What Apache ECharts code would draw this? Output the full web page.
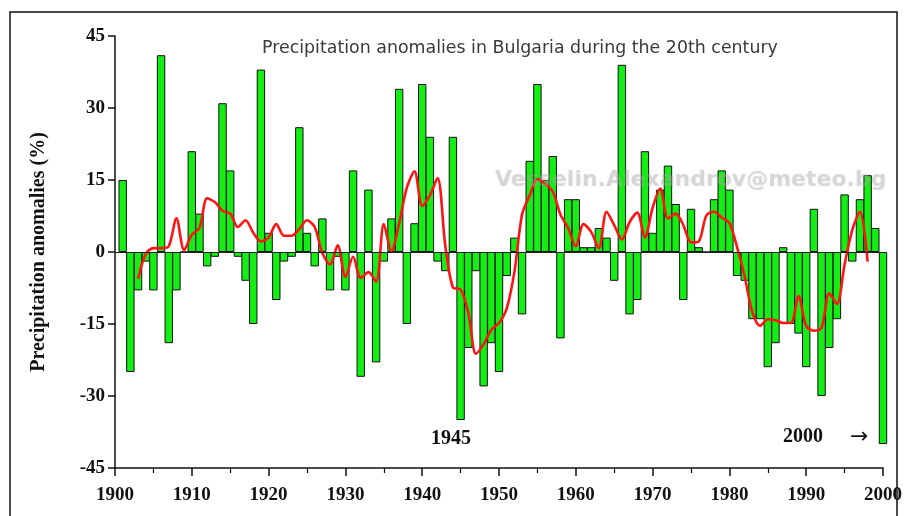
<!DOCTYPE html>
<html>
<head>
<meta charset="utf-8">
<script src="https://cdn.jsdelivr.net/npm/echarts@6/dist/echarts.min.js"></script>
<style>
html,body{margin:0;padding:0;background:#fff;}
#chart{width:905px;height:516px;}
</style>
</head>
<body>
<div id="chart"></div>
<script>
// Annual precipitation anomalies (%), 1901-2000
var firstYear = 1901;
var anomalies = [
  15, -25, -8, -2, -8, 41, -19, -8, 0, 21,
  8, -3, -1, 31, 17, -1, -6, -15, 38, 4,
  -10, -2, -1, 26, 4, -3, 7, -8, -1, -8,
  17, -26, 13, -23, -2, 7, 34, -15, 6, 35,
  24, -2, -4, 24, -35, -20, -4, -28, -19, -25,
  -5, 3, -13, 19, 35, 15, 20, -18, 11, 11,
  1, 1, 5, 3, -6, 39, -13, -10, 21, 4,
  13, 18, 10, -10, 9, 1, 0, 11, 17, 13,
  -5, -6, -14, -14, -24, -19, 1, -15, -17, -24,
  9, -30, -20, -14, 12, -2, 11, 16, 5, -40
];
// Smoothed curve (red line), 1903-1998
var smoothFirstYear = 1903;
var smoothed = [
  -5.6, -0.4, 0.8, 0.8, 1.2, 7.0, 0.4, 3.6, 5.0, 11.2,
  10.4, 8.6, 8.0, 5.2, 6.6, 4.0, 2.2, 3.0, 5.8, 3.4,
  3.4, 4.8, 6.6, 5.2, -0.2, -2.6, 1.4, -5.2, -1.0, -5.4,
  -4.2, -6.2, 5.8, 0.2, 6.0, 13.4, 16.8, 9.6, 11.8, 15.4,
  1.4, -7.4, -7.8, -12.6, -21.2, -19.2, -16.2, -14.8, -11.8, -4.2,
  7.8, 11.8, 15.2, 14.2, 12.6, 7.8, 5.0, 1.2, 5.8, 4.2,
  0.8, 8.4, 5.6, 2.6, 6.2, 8.2, 3.0, 9.2, 13.2, 7.0,
  8.0, 5.6, 2.0, 2.2, 7.6, 8.4, 7.2, 6.0, 1.0, -5.2,
  -12.6, -15.4, -14.0, -14.2, -14.8, -14.8, -9.2, -15.4, -16.4, -15.8,
  -8.6, -10.8, -2.6, 4.6, 8.4, -2.0
];
var yTicks = {min: -45, max: 45, step: 15};
var xTicks = {min: 1900, max: 2000, step: 10};
var titleText = 'Precipitation anomalies in Bulgaria during the 20th century';
var yName = 'Precipitation anomalies (%)';
var watermark = 'Vesselin.Alexandrov@meteo.bg';
var notes = ['1945', '2000', '\u2192'];

var barData = anomalies.map(function(v, i){ return [firstYear + i, v]; });
var lineData = smoothed.map(function(v, i){ return [smoothFirstYear + i, v]; });

var serif = '"Liberation Serif", "Times New Roman", serif';
var sans = '"DejaVu Sans", Verdana, sans-serif';

var chart = echarts.init(document.getElementById('chart'), null, {renderer: 'canvas'});
chart.setOption({
  animation: false,
  backgroundColor: '#ffffff',
  grid: {left: 115, right: 22, top: 36, bottom: 48},
  xAxis: {
    type: 'value',
    min: xTicks.min, max: xTicks.max, interval: xTicks.step,
    axisLine: {show: true, onZero: false, lineStyle: {color: '#111', width: 1.5}},
    axisTick: {show: true, length: 8, lineStyle: {color: '#111', width: 1.5}},
    minorTick: {show: true, splitNumber: 2, length: 5, lineStyle: {color: '#111', width: 1.2}},
    splitLine: {show: false},
    axisLabel: {fontFamily: serif, fontWeight: 'bold', fontSize: 19, color: '#111', margin: 18,
      formatter: function(v){ return String(v); }}
  },
  yAxis: {
    type: 'value',
    min: yTicks.min, max: yTicks.max, interval: yTicks.step,
    axisLine: {show: true, lineStyle: {color: '#111', width: 1.5}},
    axisTick: {show: true, length: 7, lineStyle: {color: '#111', width: 1.5}},
    splitLine: {show: false},
    axisLabel: {fontFamily: serif, fontWeight: 'bold', fontSize: 19, color: '#111', margin: 10},
    name: yName,
    nameLocation: 'middle',
    nameGap: 66,
    nameTextStyle: {fontFamily: serif, fontWeight: 'bold', fontSize: 20, color: '#111'}
  },
  series: [
    {
      type: 'bar',
      data: barData,
      barWidth: 8.4,
      itemStyle: {color: '#14ee14', borderColor: '#111', borderWidth: 1},
      markLine: {
        silent: true, symbol: 'none', label: {show: false},
        lineStyle: {color: '#222', width: 1, type: 'solid'},
        data: [{yAxis: 0}]
      },
      z: 2
    },
    {
      type: 'line',
      data: lineData,
      showSymbol: false,
      smooth: 0.3,
      lineStyle: {color: '#ff1414', width: 2.6},
      z: 3
    }
  ],
  graphic: [
    {type: 'rect', shape: {x: 10, y: 12, width: 887, height: 520}, silent: true,
      style: {fill: 'none', stroke: '#111', lineWidth: 1.5}, z: 0},
    {type: 'text', left: 262, top: 40, silent: true,
      style: {text: titleText, font: '17.4px ' + sans, fill: '#3a3a3a'}},
    {type: 'text', left: 495, top: 169, silent: true, z: 10,
      style: {text: watermark, font: 'bold 22px ' + sans, fill: 'rgba(165,165,165,0.38)',
        textShadowColor: 'rgba(165,165,165,0.4)', textShadowBlur: 3}},
    {type: 'text', left: 431, top: 429, silent: true,
      style: {text: notes[0], font: 'bold 20px ' + serif, fill: '#111'}},
    {type: 'text', left: 783, top: 427, silent: true,
      style: {text: notes[1], font: 'bold 20px ' + serif, fill: '#111'}},
    {type: 'text', left: 850, top: 426, silent: true,
      style: {text: notes[2], font: '22px ' + sans, fill: '#111'}}
  ]
});
</script>
</body>
</html>
